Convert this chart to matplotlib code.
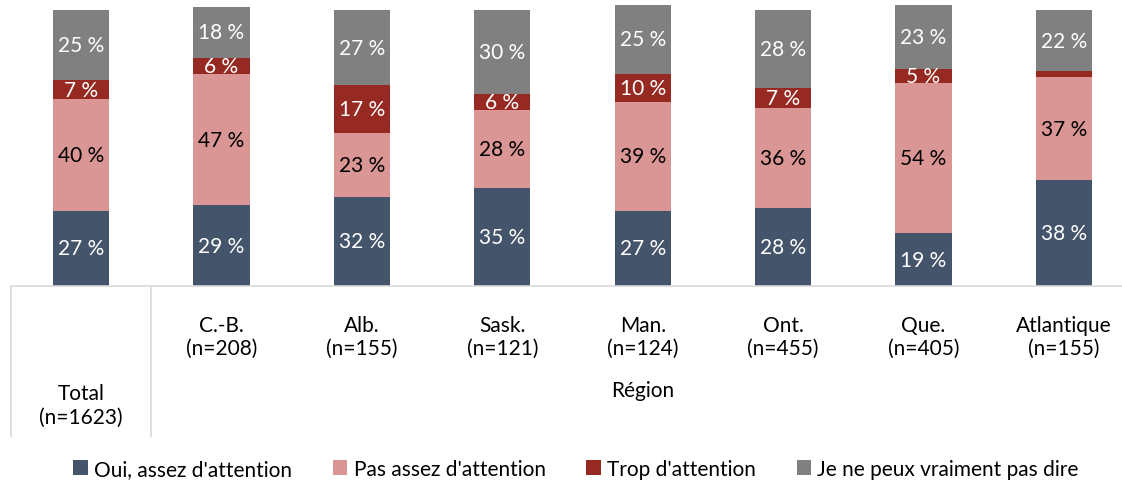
import matplotlib.pyplot as plt

plt.rcParams['font.family'] = ['Lato', 'DejaVu Sans']

categories = ['Total\n(n=1623)', 'C.-B.\n(n=208)', 'Alb.\n(n=155)', 'Sask.\n(n=121)',
              'Man.\n(n=124)', 'Ont.\n(n=455)', 'Que.\n(n=405)', 'Atlantique\n(n=155)']
series_names = ["Oui, assez d'attention", "Pas assez d'attention",
                "Trop d'attention", "Je ne peux vraiment pas dire"]
oui = [27, 29, 32, 35, 27, 28, 19, 38]
pas_assez = [40, 47, 23, 28, 39, 36, 54, 37]
trop = [7, 6, 17, 6, 10, 7, 5, 2]
je_ne_sais = [25, 18, 27, 30, 25, 28, 23, 22]

colors = ['#44546A', '#DA9694', '#962A22', '#808080']
text_colors = ['white', 'black', 'white', 'white']
fs = 15

fig = plt.figure(figsize=(11.22, 4.85), dpi=100)
W, H = 1122, 485
ax = fig.add_axes([11 / W, 1 - 287 / H, 1123 / W, 287 / H])

x = list(range(len(categories)))
bottom = [0] * len(x)
for vals, name, col, tcol in zip([oui, pas_assez, trop, je_ne_sais], series_names, colors, text_colors):
    ax.bar(x, vals, bottom=bottom, width=0.4, color=col, label=name)
    for i, v in enumerate(vals):
        if v >= 3:
            ax.text(i, bottom[i] + v / 2, f'{v} %', ha='center', va='center',
                    color=tcol, fontsize=fs)
    bottom = [b + v for b, v in zip(bottom, vals)]

ax.set_xlim(-0.5, 7.5)
ax.set_ylim(0, 103)
ax.set_xticks([])
ax.set_yticks([])
for s in ['top', 'right', 'left']:
    ax.spines[s].set_visible(False)
ax.spines['bottom'].set_color('#D9D9D9')
ax.spines['bottom'].set_linewidth(1.2)

# category labels
for i, lab in enumerate(categories):
    y = -42.7 if i == 0 else -18.1
    ax.text(i, y, lab, ha='center', va='center', fontsize=fs,
            linespacing=1.2, clip_on=False)
ax.text(4, -37.5, 'Région', ha='center', va='center', fontsize=fs, clip_on=False)

for xs in [-0.5, 0.5, 7.5]:
    ax.plot([xs, xs], [0, -53.8], color='#D9D9D9', lw=1.2, clip_on=False)

fig.legend(loc='center', bbox_to_anchor=(576 / W, 1 - 470 / H), ncol=4, frameon=False,
           fontsize=fs, handlelength=0.7, handleheight=0.7, handletextpad=0.3,
           columnspacing=1.95)

fig.savefig('out.png', dpi=100)
